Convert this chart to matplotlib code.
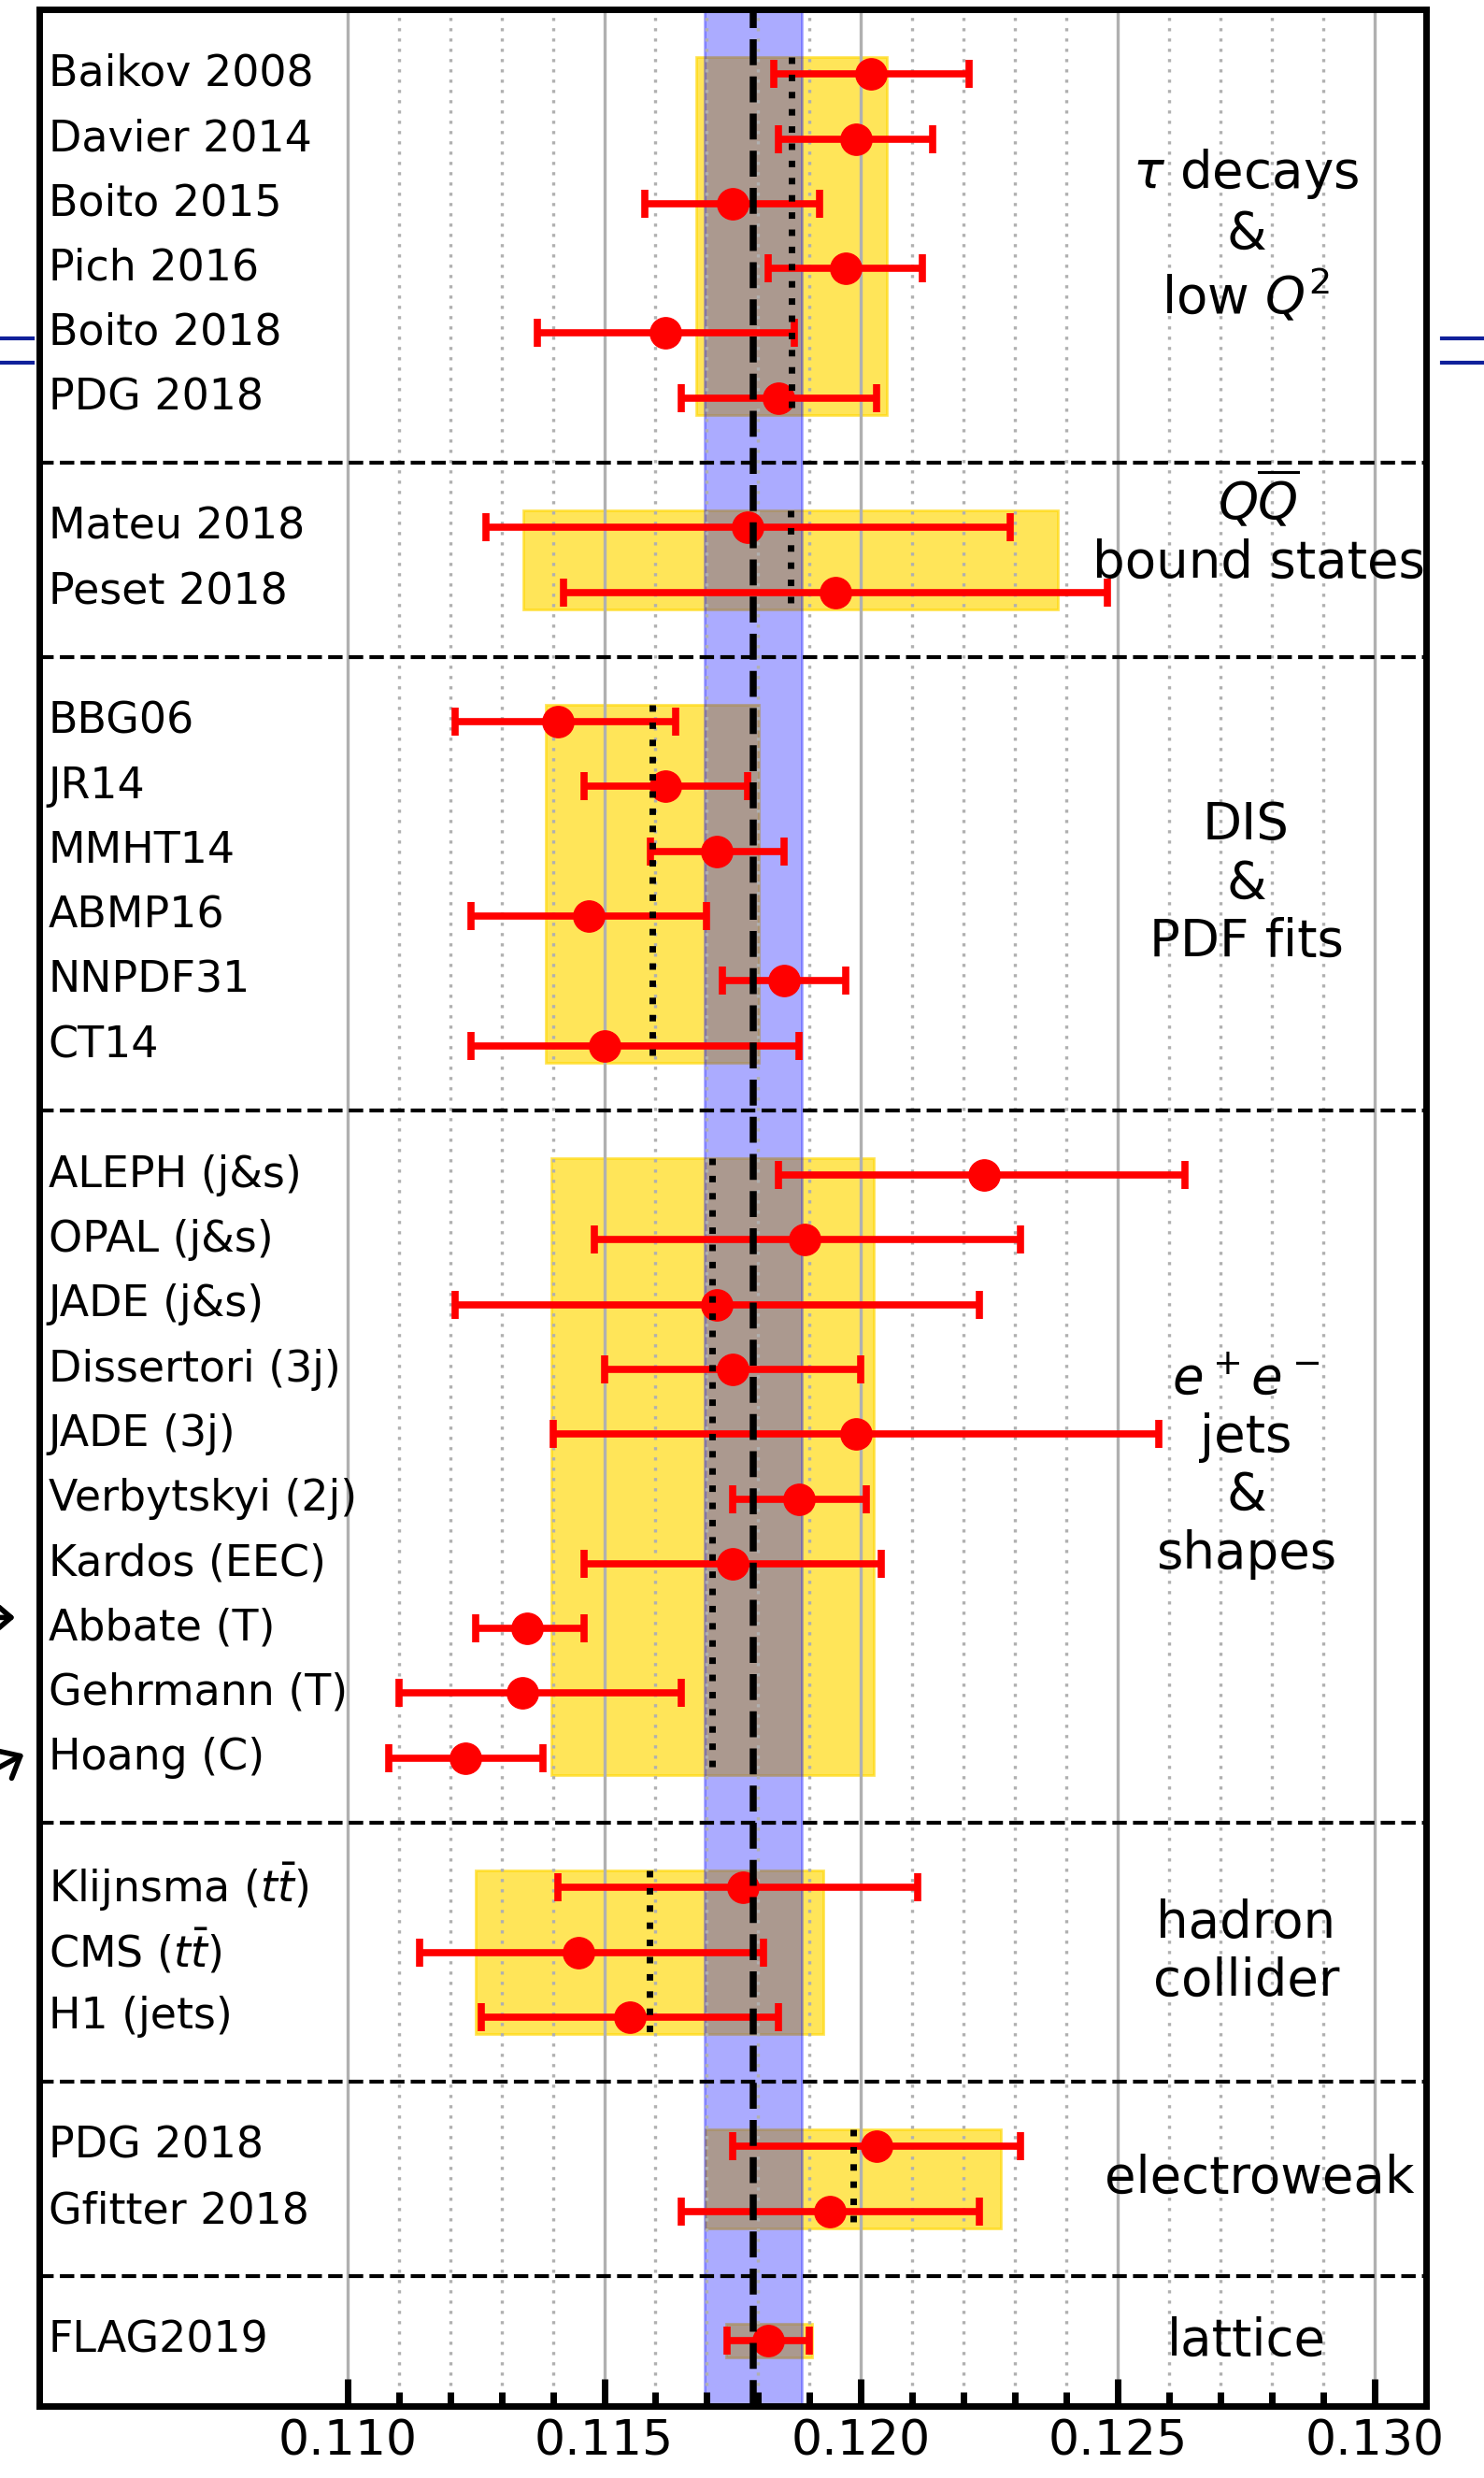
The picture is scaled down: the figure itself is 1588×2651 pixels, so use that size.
import numpy as np
import matplotlib
matplotlib.use("Agg")
import matplotlib.pyplot as plt
import matplotlib.transforms as mtransforms
from matplotlib.patches import Rectangle
from matplotlib.lines import Line2D

# alpha_s(m_Z^2) determinations, one block per method (central, -err, +err)
tau_names = ["Baikov 2008", "Davier 2014", "Boito 2015", "Pich 2016", "Boito 2018", "PDG 2018"]
tau_val = [0.1202, 0.1199, 0.1175, 0.1197, 0.1162, 0.1184]
tau_lo = [0.0019, 0.0015, 0.0017, 0.0015, 0.0025, 0.0019]
tau_hi = [0.0019, 0.0015, 0.0017, 0.0015, 0.0025, 0.0019]

qq_names = ["Mateu 2018", "Peset 2018"]
qq_val = [0.1178, 0.1195]
qq_lo = [0.0051, 0.0053]
qq_hi = [0.0051, 0.0053]

dis_names = ["BBG06", "JR14", "MMHT14", "ABMP16", "NNPDF31", "CT14"]
dis_val = [0.1141, 0.1162, 0.1172, 0.1147, 0.1185, 0.1150]
dis_lo = [0.0020, 0.0016, 0.0013, 0.0023, 0.0012, 0.0026]
dis_hi = [0.0023, 0.0016, 0.0013, 0.0023, 0.0012, 0.0038]

ee_names = ["ALEPH (j&s)", "OPAL (j&s)", "JADE (j&s)", "Dissertori (3j)", "JADE (3j)",
            "Verbytskyi (2j)", "Kardos (EEC)", "Abbate (T)", "Gehrmann (T)", "Hoang (C)"]
ee_val = [0.1224, 0.1189, 0.1172, 0.1175, 0.1199, 0.1188, 0.1175, 0.1135, 0.1134, 0.1123]
ee_lo = [0.0040, 0.0041, 0.0051, 0.0025, 0.0059, 0.0013, 0.0029, 0.0010, 0.0024, 0.0015]
ee_hi = [0.0039, 0.0042, 0.0051, 0.0025, 0.0059, 0.0013, 0.0029, 0.0011, 0.0031, 0.0015]

had_names = [r"Klijnsma ($t\bar{t}$)", r"CMS ($t\bar{t}$)", "H1 (jets)"]
had_val = [0.1177, 0.1145, 0.1155]
had_lo = [0.0036, 0.0031, 0.0029]
had_hi = [0.0034, 0.0036, 0.0029]

ew_names = ["PDG 2018", "Gfitter 2018"]
ew_val = [0.1203, 0.1194]
ew_lo = [0.0028, 0.0029]
ew_hi = [0.0028, 0.0029]

lat_names = ["FLAG2019"]
lat_val = [0.1182]
lat_lo = [0.0008]
lat_hi = [0.0008]

# pre-averages per method and the world average
avg_val = [0.11865, 0.11863, 0.11594, 0.11711, 0.11588, 0.11985, 0.11821]
avg_err = [0.00185, 0.00520, 0.00208, 0.00313, 0.00338, 0.00287, 0.00084]
world_val = 0.1179
world_err = 0.00095

group_titles = [r"$\tau$ decays" "\n&\n" r"low $Q^2$",
                r"$Q\overline{Q}$" "\nbound states",
                "DIS\n&\nPDF fits",
                r"$e^+e^-$" "\njets\n&\nshapes",
                "hadron\ncollider",
                "electroweak",
                "lattice"]
title_x = [0.1275, 0.12775, 0.1275, 0.1275, 0.1275, 0.12775, 0.1275]
title_dy = [0, -0.48, 0, 0, 0, 0, 0]

groups = [(tau_names, tau_val, tau_lo, tau_hi),
          (qq_names, qq_val, qq_lo, qq_hi),
          (dis_names, dis_val, dis_lo, dis_hi),
          (ee_names, ee_val, ee_lo, ee_hi),
          (had_names, had_val, had_lo, had_hi),
          (ew_names, ew_val, ew_lo, ew_hi),
          (lat_names, lat_val, lat_lo, lat_hi)]

fig = plt.figure(figsize=(15.88, 26.51), dpi=100)
ax = fig.add_axes([0.0264, 0.0292, 0.9345, 0.9670])
lab = mtransforms.blended_transform_factory(ax.transAxes, ax.transData)

half = 0.26
row = 0
for g, (names, vals, elo, ehi) in enumerate(groups):
    n = len(names)
    ys = np.arange(row, row + n)
    ax.errorbar(vals, ys, xerr=[elo, ehi], fmt='o', color='red', ms=24,
                lw=5.5, capsize=11, capthick=5.5, zorder=3)
    for y, name in zip(ys, names):
        ax.text(0.0065, y, name, transform=lab, fontsize=33, ha='left', va='center')

    c, e = avg_val[g], avg_err[g]
    ax.add_patch(Rectangle((c - e, row - half), 2 * e, n - 1 + 2 * half,
                           facecolor='gold', edgecolor='gold', alpha=0.65, lw=2, zorder=0.8))
    if n > 1:
        ax.plot([c, c], [row - half, row + n - 1 + half], color='black', ls=':', lw=5, zorder=4)

    ax.text(title_x[g], row + (n - 1) / 2 + title_dy[g], group_titles[g], fontsize=39.3,
            ha='center', va='center')

    if g < len(groups) - 1:
        ax.axhline(row + n, color='black', ls='--', lw=3, zorder=4)
    row += n + 1

# world average band
ax.axvspan(world_val - world_err, world_val + world_err, facecolor='blue',
           edgecolor='blue', alpha=0.33, lw=2, zorder=1)
ax.axvline(world_val, color='black', ls='--', lw=5.4, zorder=5)

ax.set_xlim(0.104, 0.131)
ax.set_ylim(row - 1, -1)

major = [0.110, 0.115, 0.120, 0.125, 0.130]
minor = [0.110 + 0.001 * i for i in range(21) if i % 5]
ax.set_xticks(major)
ax.set_xticks(minor, minor=True)
ax.set_xticklabels([f"{t:.3f}" for t in major])
ax.tick_params(axis='x', which='both', direction='in', top=False, width=5,
               labelsize=37.5, pad=10)
ax.tick_params(axis='x', which='major', length=21)
ax.tick_params(axis='x', which='minor', length=10.5)
ax.tick_params(axis='y', left=False, labelleft=False)
ax.grid(axis='x', which='major', color='#b0b0b0', ls='-', lw=2.4)
ax.grid(axis='x', which='minor', color='#b0b0b0', ls=(0, (1, 2.3)), lw=2.4)
for sp in ax.spines.values():
    sp.set_linewidth(5)

# arrows pointing at Abbate and Hoang
arrow = dict(arrowstyle='->,head_length=0.7,head_width=0.6', lw=4, color='black',
             mutation_scale=20)
ax.annotate('', xy=(-0.0155, 23.83), xytext=(-0.06, 23.83), xycoords=lab,
            textcoords=lab, arrowprops=arrow, annotation_clip=False)
ax.annotate('', xy=(-0.0094, 25.92), xytext=(-0.06, 26.5), xycoords=lab,
            textcoords=lab, arrowprops=arrow, annotation_clip=False)

# equals signs at the page edges
for yf in (1 - 362 / 2651, 1 - 388 / 2651):
    fig.add_artist(Line2D([0, 0.022], [yf, yf], color='#10209a', lw=3))
    fig.add_artist(Line2D([0.9717, 1.0], [yf, yf], color='#10209a', lw=3))

fig.savefig("out.png", dpi=100)
